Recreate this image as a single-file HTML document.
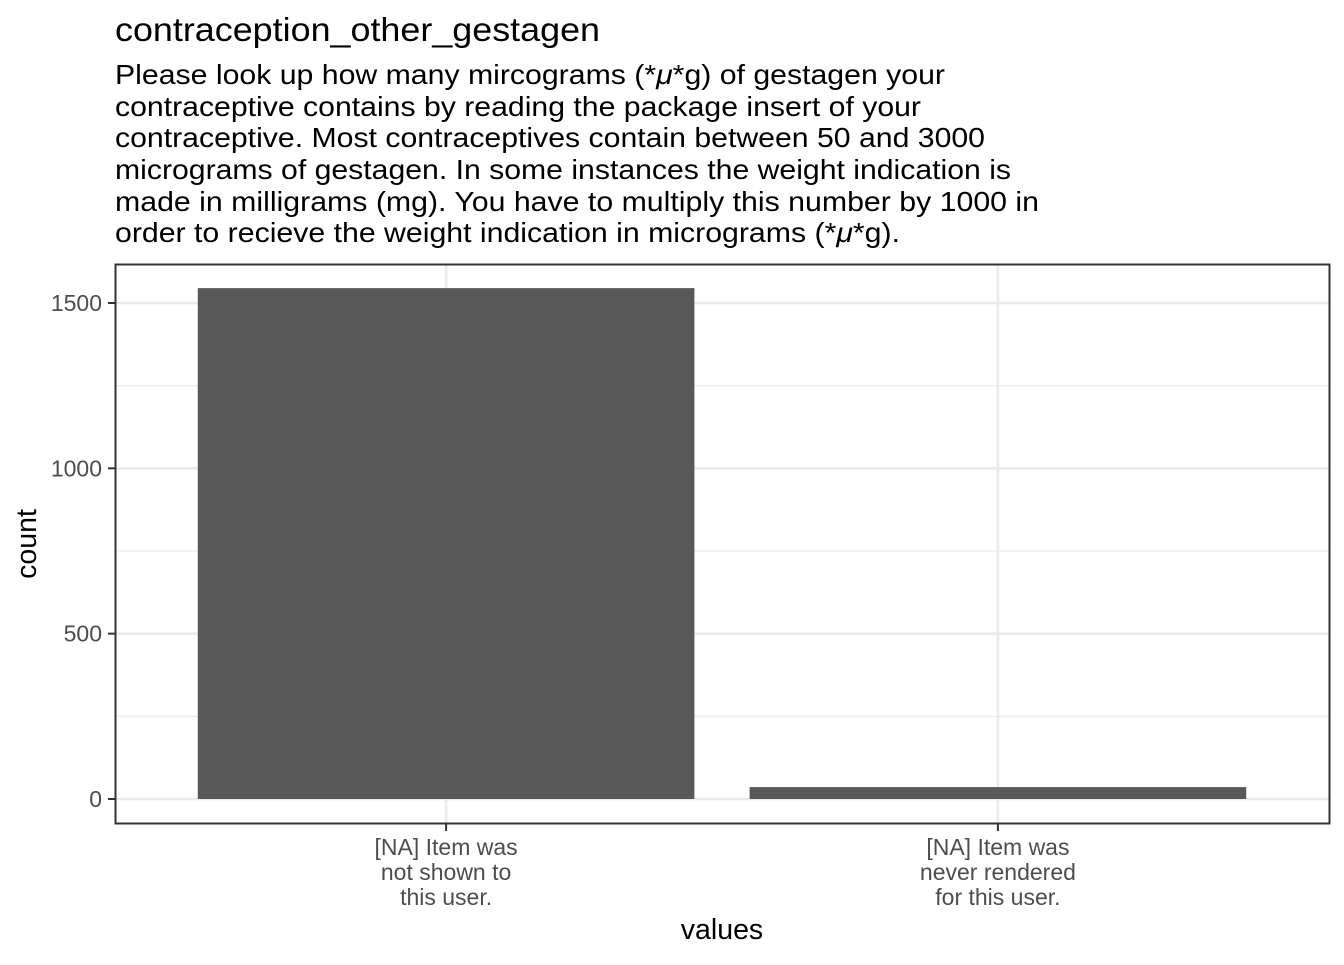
<!DOCTYPE html>
<html><head><meta charset="utf-8">
<style>
body{margin:0;background:#fff;font-family:"Liberation Sans",Arial,sans-serif;}
svg text{font-family:"Liberation Sans",Arial,sans-serif;}
</style></head>
<body>
<svg id="chart" width="1344" height="960" xmlns="http://www.w3.org/2000/svg">
<rect width="1344" height="960" fill="#fff"/>
<text x="115" y="41" font-size="33" fill="#000" textLength="485" lengthAdjust="spacingAndGlyphs">contraception_other_gestagen</text>
<g font-size="28" fill="#000">
<text x="115" y="84" textLength="830" lengthAdjust="spacingAndGlyphs">Please look up how many mircograms (*<tspan font-style="italic">μ</tspan>*g) of gestagen your</text>
<text x="115" y="116" textLength="806" lengthAdjust="spacingAndGlyphs">contraceptive contains by reading the package insert of your</text>
<text x="115" y="147" textLength="870" lengthAdjust="spacingAndGlyphs">contraceptive. Most contraceptives contain between 50 and 3000</text>
<text x="115" y="179" textLength="896" lengthAdjust="spacingAndGlyphs">micrograms of gestagen. In some instances the weight indication is</text>
<text x="115" y="211" textLength="924" lengthAdjust="spacingAndGlyphs">made in milligrams (mg). You have to multiply this number by 1000 in</text>
<text x="115" y="242" textLength="785" lengthAdjust="spacingAndGlyphs">order to recieve the weight indication in micrograms (*<tspan font-style="italic">μ</tspan>*g).</text>
</g>
<g id="grid"></g>
<g id="bars"></g>
<rect x="115.5" y="264.5" width="1214" height="559" fill="none" stroke="#333" stroke-width="2"/>
<g id="axes"></g>
<text x="722" y="939" font-size="28.5" text-anchor="middle" fill="#000">values</text>
<text transform="translate(36,544) rotate(-90)" font-size="28.5" text-anchor="middle" fill="#000">count</text>
</svg>
<script>
const categories = [["[NA] Item was","not shown to","this user."],["[NA] Item was","never rendered","for this user."]];
const counts = [1545, 36];
const yTicks = [0, 500, 1000, 1500];
const yMinor = [250, 750, 1250];
const ns = "http://www.w3.org/2000/svg";
const L = 115, R = 1329, T = 264, B = 824;
const y = v => 799 - v * (799 - 303) / 1500;
const step = (R - L) / (categories.length + 0.2);
const x = i => L + step * 0.6 + step * i;
function mk(tag, attrs, parent){const e=document.createElementNS(ns,tag);for(const k in attrs)e.setAttribute(k,attrs[k]);parent.appendChild(e);return e;}
const grid=document.getElementById('grid'), bars=document.getElementById('bars'), axes=document.getElementById('axes');
yMinor.forEach(v=>{const l=mk('line',{x1:L,x2:R,y1:y(v),y2:y(v),stroke:'#ebebeb','stroke-width':1.3},grid);

});
yTicks.forEach(v=>{const l=mk('line',{x1:L,x2:R,y1:y(v),y2:y(v),stroke:'#ebebeb','stroke-width':2.7},grid);


const t=mk('line',{x1:L-7,x2:L,y1:y(v),y2:y(v),stroke:'#333','stroke-width':2},axes);


const tx=mk('text',{x:L-13,y:y(v)+8,'font-size':23,'text-anchor':'end',fill:'#4d4d4d'},axes);tx.textContent=v;

});
categories.forEach((c,i)=>{const cx=x(i);
const g=mk('line',{x1:cx,x2:cx,y1:T,y2:B,stroke:'#ebebeb','stroke-width':2.7},grid);


const w=step*0.9;
const b=mk('rect',{x:cx-w/2,y:y(counts[i]),width:w,height:y(0)-y(counts[i]),fill:'#595959'},bars);


const t=mk('line',{x1:cx,x2:cx,y1:B,y2:B+7,stroke:'#333','stroke-width':2},axes);


c.forEach((s,j)=>{const tx=mk('text',{x:cx,y:855+j*25,'font-size':23,'text-anchor':'middle',fill:'#4d4d4d'},axes);tx.textContent=s;

});});
</script>
</body></html>
